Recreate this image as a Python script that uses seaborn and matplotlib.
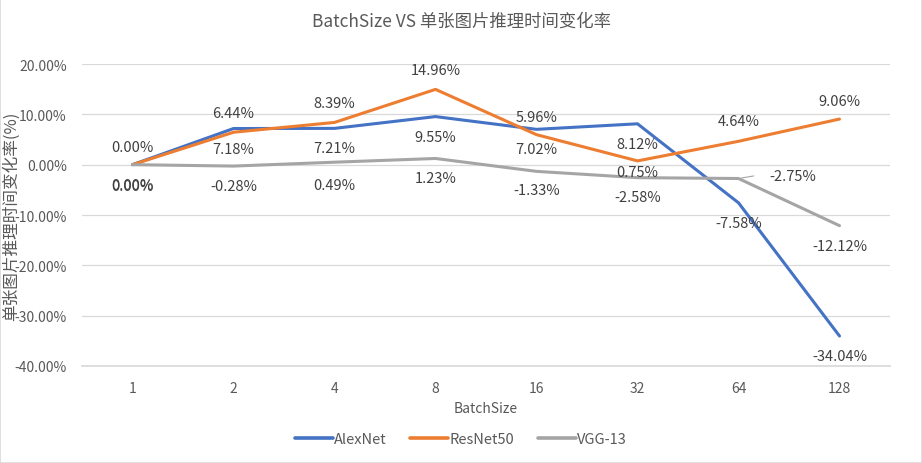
import matplotlib
matplotlib.use("Agg")
import matplotlib.pyplot as plt
import seaborn as sns
import pandas as pd
from matplotlib.patches import Rectangle
from matplotlib.lines import Line2D

batch_sizes = ["1", "2", "4", "8", "16", "32", "64", "128"]
alexnet = [0.00, 7.18, 7.21, 9.55, 7.02, 8.12, -7.58, -34.04]
resnet50 = [0.00, 6.44, 8.39, 14.96, 5.96, 0.75, 4.64, 9.06]
vgg13 = [0.00, -0.28, 0.49, 1.23, -1.33, -2.58, -2.75, -12.12]
series_names = ["AlexNet", "ResNet50", "VGG-13"]
y_ticks = [20, 10, 0, -10, -20, -30, -40]

title = "BatchSize VS 单张图片推理时间变化率"
x_label = "BatchSize"
y_label = "单张图片推理时间变化率(%)"

colors = ["#4472C4", "#ED7D31", "#A5A5A5"]
text_color = "#595959"

# label offsets in pixels (dx, dy) per series
offsets = {
    "AlexNet": [(0, -20)] * 8,
    "ResNet50": [(0, 18), (0, 19), (0, 19), (0, 19), (0, 18), (0, -11), (0, 20), (0, 18)],
    "VGG-13": [(0, -21), (0, -20), (0, -23), (0, -20), (0, -19), (0, -19), (54, 3), (0, -20)],
}

sns.set_theme(style="white")
plt.rcParams["font.family"] = ["Noto Sans CJK SC", "DejaVu Sans"]

df = pd.DataFrame({
    "BatchSize": batch_sizes * 3,
    "value": alexnet + resnet50 + vgg13,
    "model": sum([[n] * len(batch_sizes) for n in series_names], []),
})

fig = plt.figure(figsize=(9.22, 4.64), dpi=100)
fig.patch.set_facecolor("white")
fig.patches.append(Rectangle((0, 0), 1, 1, transform=fig.transFigure, fill=False,
                             edgecolor="#D9D9D9", linewidth=1.2))
ax = fig.add_axes([82 / 922, 1 - 367 / 464, (890 - 82) / 922, (367 - 65) / 464])

sns.lineplot(data=df, x="BatchSize", y="value", hue="model", palette=colors,
             hue_order=series_names, sort=False, linewidth=2.2, ax=ax, legend=False)

ax.set_xlim(-0.5, len(batch_sizes) - 0.5)
ax.set_ylim(-40, 20)
ax.set_yticks(y_ticks)
ax.set_yticklabels([f"{t:.2f}%" for t in y_ticks])
ax.grid(axis="y", color="#D9D9D9", linewidth=0.9)
ax.set_axisbelow(True)
for s in ["top", "right", "left"]:
    ax.spines[s].set_visible(False)
ax.spines["bottom"].set_color("#D9D9D9")
ax.tick_params(axis="both", length=0, colors=text_color, labelsize=10)
ax.tick_params(axis="y", pad=11)
ax.tick_params(axis="x", pad=11)

ax.set_xlabel(x_label, color=text_color, fontsize=10, labelpad=4)
ax.set_ylabel(y_label, color=text_color, fontsize=12)
ax.yaxis.set_label_coords(-0.077, 0.5)

vals = {"AlexNet": alexnet, "ResNet50": resnet50, "VGG-13": vgg13}
for name in series_names:
    for i, v in enumerate(vals[name]):
        dx, dy = offsets[name][i]
        ax.annotate(f"{v:.2f}%", (i, v), xytext=(dx * 0.72, dy * 0.72),
                    textcoords="offset points", ha="center", va="center",
                    color="#404040", fontsize=10.5)
# leader line for VGG-13 at 64
ax.annotate("", xy=(6, vgg13[6]), xytext=(6 + 18 / 101, vgg13[6] + 0.6),
            arrowprops=dict(arrowstyle="-", color="#A5A5A5", lw=0.8))

fig.suptitle(title, x=0.5, y=1 - 22 / 464, va="center", color=text_color, fontsize=12.5)

handles = [Line2D([0], [0], color=c, lw=2.6) for c in colors]
fig.legend(handles, series_names, loc="center", bbox_to_anchor=(0.5, 1 - 440 / 464),
           ncol=3, frameon=False, fontsize=10.5, handlelength=2.6, handletextpad=0.1,
           columnspacing=1.6, labelcolor=text_color)

fig.savefig("out.png", dpi=100)
